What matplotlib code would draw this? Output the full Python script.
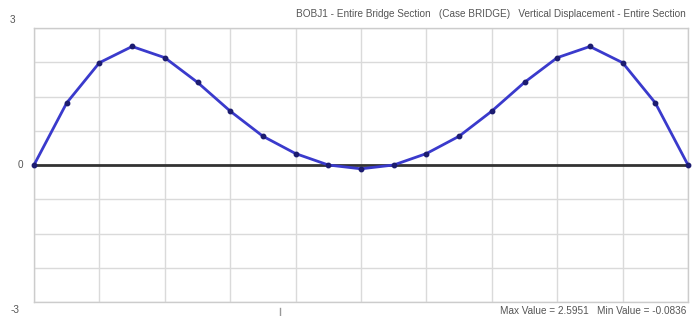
import matplotlib
matplotlib.use("Agg")
import matplotlib.pyplot as plt
from matplotlib.lines import Line2D
import numpy as np

# ── data ──────────────────────────────────────────────────────────────────────
stations = list(range(21))
displacement = [0.0, 1.36, 2.24, 2.5951, 2.35, 1.81, 1.18, 0.63, 0.25, 0.0,
                -0.0836,
                0.0, 0.25, 0.63, 1.18, 1.81, 2.35, 2.5951, 2.24, 1.36, 0.0]
y_labels = ["3", "0", "-3"]
title_text = ("BOBJ1 - Entire Bridge Section   (Case BRIDGE)   "
              "Vertical Displacement - Entire Section")
footer_text = "Max Value = 2.5951   Min Value = -0.0836"

_TEXT = "#555555"
_GRID = "#dadada"
_FONT = "Liberation Sans"

fig = plt.figure(figsize=(6.97, 3.16), dpi=100)
ax = fig.add_axes([34 / 697, 14 / 316, 654 / 697, 274 / 316])

ax.set_xlim(0, 20)
ax.set_ylim(-3, 3)
ax.set_xticks(np.arange(0, 21, 2))
ax.set_yticks(np.arange(-3, 3.01, 0.75))
ax.grid(True, color=_GRID, linewidth=1.0)
ax.tick_params(length=0, labelbottom=False, labelleft=False)
for sp in ax.spines.values():
    sp.set_color("#cccccc")
    sp.set_linewidth(1.0)
ax.set_axisbelow(True)

ax.axhline(0, color="#333333", linewidth=2.0, zorder=2)
ax.plot(stations, displacement, color="#3a3acc", linewidth=2.0,
        marker="o", markersize=3.2, markerfacecolor="#1c1c70",
        markeredgecolor="#1c1c70", zorder=3, clip_on=False)

# y labels sit slightly outside the usual tick positions
fig.text(10 / 697, 1 - 20 / 316, y_labels[0], fontsize=7.2, color=_TEXT,
         family=_FONT, ha="left", va="center")
fig.text(18 / 697, 1 - 165 / 316, y_labels[1], fontsize=7.2, color=_TEXT,
         family=_FONT, ha="left", va="center")
fig.text(11 / 697, 1 - 310 / 316, y_labels[2], fontsize=7.2, color=_TEXT,
         family=_FONT, ha="left", va="center")

fig.text(686 / 697, 1 - 14 / 316, title_text, fontsize=7.2, color=_TEXT,
         family=_FONT, ha="right", va="center")
fig.text(686 / 697, 1 - 311 / 316, footer_text, fontsize=7.2, color=_TEXT,
         family=_FONT, ha="right", va="center")

fig.add_artist(Line2D([280 / 697, 280 / 697], [0, 8 / 316],
                      color="#999999", linewidth=1.0))

fig.savefig("out.png", dpi=100)
